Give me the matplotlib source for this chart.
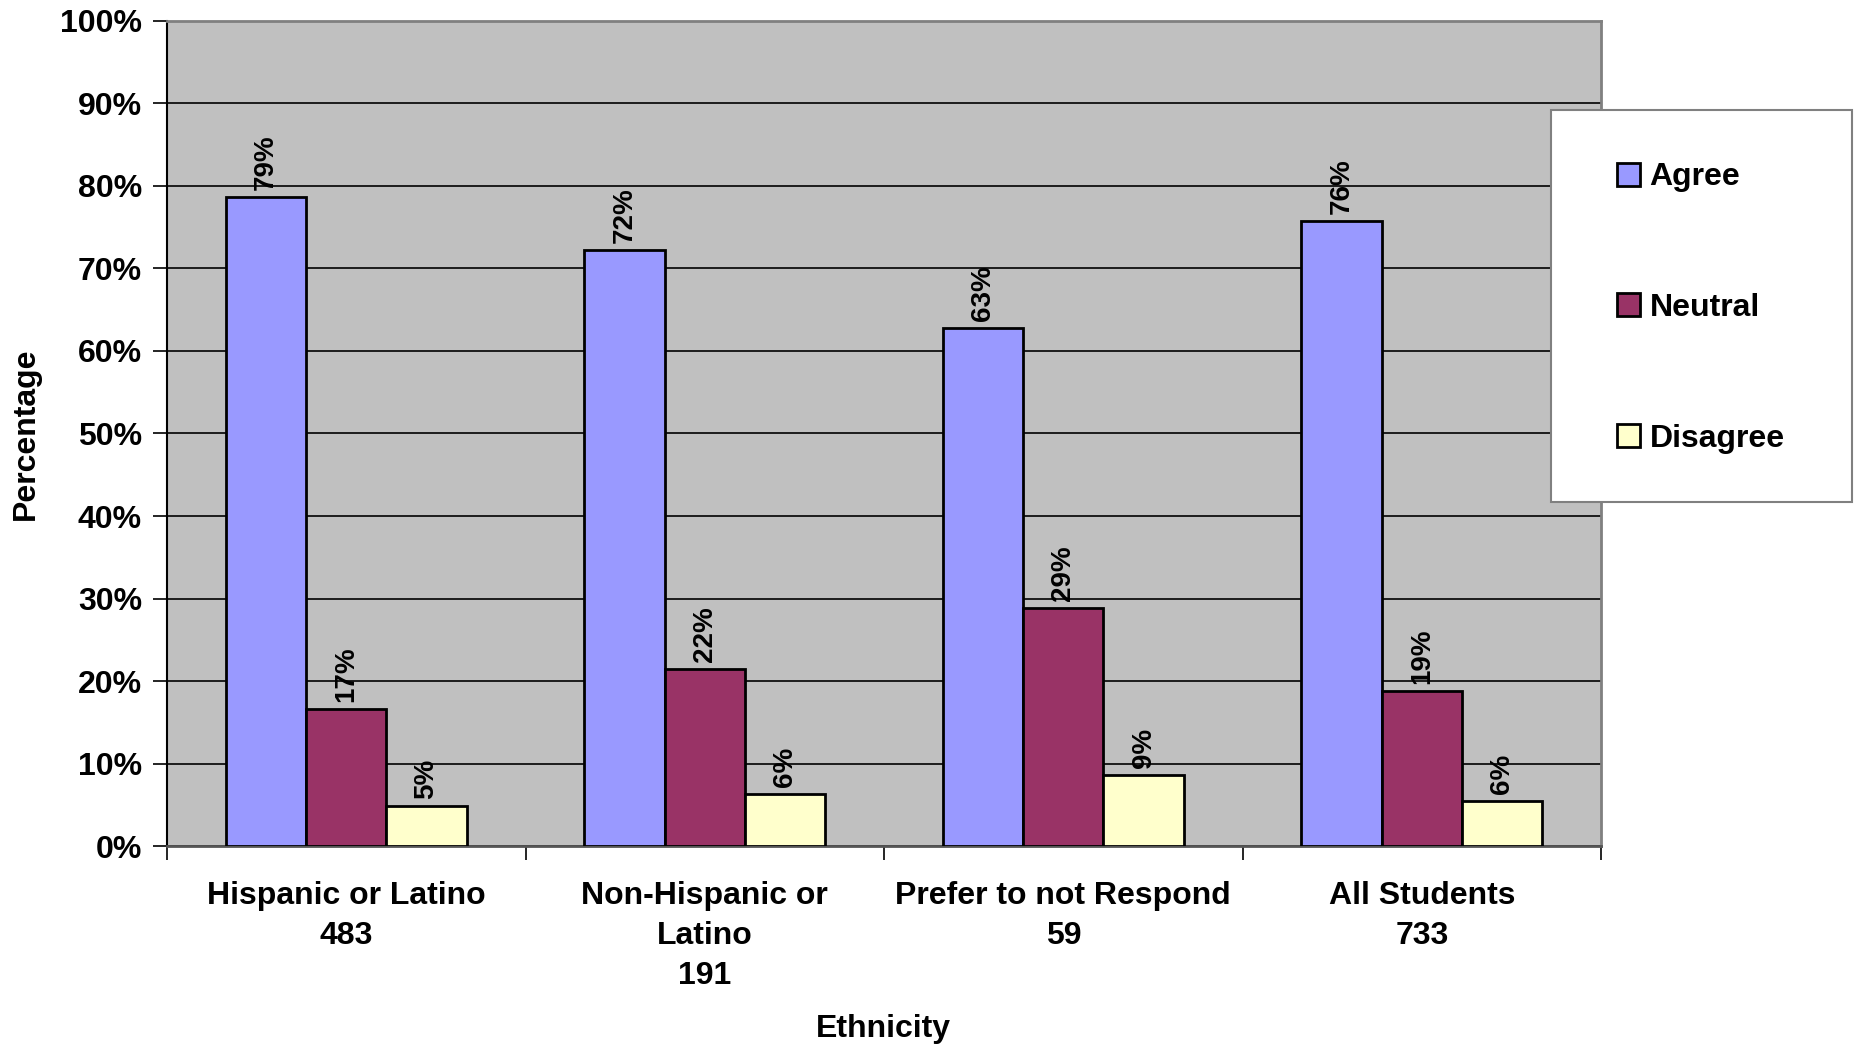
import matplotlib
matplotlib.use("Agg")
import matplotlib.pyplot as plt
import matplotlib.patches as mpatches
import numpy as np

# data
categories = ["Hispanic or Latino\n483", "Non-Hispanic or\nLatino\n191",
              "Prefer to not Respond\n59", "All Students\n733"]
series_names = ["Agree", "Neutral", "Disagree"]
agree = [78.7, 72.3, 62.8, 75.8]
neutral = [16.6, 21.5, 28.8, 18.8]
disagree = [4.8, 6.3, 8.6, 5.5]
colors = ["#9999FF", "#993366", "#FFFFCC"]

plt.rcParams["font.family"] = ["Liberation Sans", "DejaVu Sans"]
plt.rcParams["font.weight"] = "bold"

fig = plt.figure(figsize=(18.58, 10.49), dpi=100)
ax = fig.add_axes([0.0899, 0.1935, 0.7718, 0.7865])
ax.set_facecolor("#C0C0C0")

x = np.arange(len(categories))
width = 0.224
values = [agree, neutral, disagree]
for i, (name, vals, col) in enumerate(zip(series_names, values, colors)):
    bars = ax.bar(x + (i - 1) * width, vals, width, color=col, edgecolor="black",
                  linewidth=2, label=name, zorder=3)
    for b, v in zip(bars, vals):
        ax.annotate(f"{round(v):d}%", (b.get_x() + b.get_width() / 2, v),
                    xytext=(0, 5), textcoords="offset points", rotation=90,
                    ha="center", va="bottom", fontsize=20, fontweight="bold", zorder=4)

ax.set_xlim(-0.5, 3.5)
ax.set_ylim(0, 100)
ax.set_yticks(np.arange(0, 101, 10))
ax.set_yticklabels([f"{t}%" for t in range(0, 101, 10)], fontsize=23, fontweight="bold")
ax.yaxis.grid(True, color="black", linewidth=1.2, zorder=1)
ax.tick_params(axis="y", length=10, width=1.2, pad=8)

ax.set_xticks(np.arange(-0.5, 4, 1))
ax.set_xticklabels([])
ax.set_xticks(x, minor=True)
ax.set_xticklabels(categories, minor=True, fontsize=23, fontweight="bold",
                   linespacing=1.45)
ax.tick_params(axis="x", which="major", length=10, width=1.2, direction="out")
ax.tick_params(axis="x", which="minor", length=0, pad=25)

for s in ["top", "right"]:
    ax.spines[s].set_color("#808080")
    ax.spines[s].set_linewidth(2)
ax.spines["left"].set_linewidth(1.5)
ax.spines["bottom"].set_color("#555555")
ax.spines["bottom"].set_linewidth(2)

ax.set_ylabel("Percentage", fontsize=23, fontweight="bold")
ax.yaxis.set_label_coords(-0.088, 0.5)
fig.text(0.4757, 0.019, "Ethnicity", ha="center", va="center", fontsize=23, fontweight="bold")

# legend box drawn separately so the entries can sit inside it like the original
box = mpatches.Rectangle((0.8348, 0.5214), 0.162, 0.374, transform=fig.transFigure,
                         facecolor="white", edgecolor="#808080", linewidth=1.5,
                         clip_on=False, zorder=5)
ax.add_patch(box)
leg = ax.legend(loc="center left", bbox_to_anchor=(0.8703, 0.7064),
                bbox_transform=fig.transFigure, fontsize=23, frameon=False,
                borderpad=0, labelspacing=3.15, handlelength=0.72, handleheight=0.72,
                handletextpad=0.3, borderaxespad=0)
leg.set_zorder(10)
for t in leg.get_texts():
    t.set_fontweight("bold")
for h in leg.legend_handles:
    h.set_linewidth(2)

fig.savefig("out.png", dpi=100)
